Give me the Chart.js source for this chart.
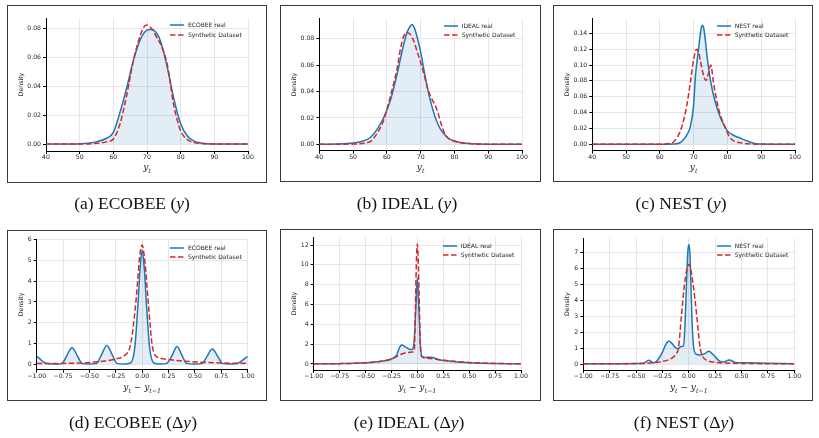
<!DOCTYPE html>
<html>
<head>
<meta charset="utf-8">
<script src="https://cdn.jsdelivr.net/npm/chart.js@4"></script>
<style>
  body { margin: 0; background: #fff; width: 819px; height: 438px; overflow: hidden; position: relative; font-family: "DejaVu Sans", sans-serif; }
  canvas { position: absolute; }
  .box { position: absolute; border: 1.6px solid #3a3a3a; box-sizing: border-box; pointer-events: none; }
  .leg { position: absolute; font-size: 6px; color: #222; white-space: nowrap; transform: translateY(-50%); line-height: 1; }
  .legline { position: absolute; }
  .xl { position: absolute; font-family: "DejaVu Serif", serif; font-style: italic; font-size: 9px; color: #222; transform: translate(-50%, -50%); white-space: nowrap; }
  .xl sub { font-size: 70%; }
  .cap { position: absolute; font-family: "Liberation Serif", "Times New Roman", serif; font-size: 17.5px; color: #111; transform: translate(-50%, -50%); white-space: nowrap; }
</style>
</head>
<body>
<script>
// tick values / labels
const xTicksY = [40, 50, 60, 70, 80, 90, 100];
const xLabelsY = ["40", "50", "60", "70", "80", "90", "100"];
const xTicksDY = [-1, -0.75, -0.5, -0.25, 0, 0.25, 0.5, 0.75, 1];
const xLabelsDY = ["\u22121.00", "\u22120.75", "\u22120.50", "\u22120.25", "0.00", "0.25", "0.50", "0.75", "1.00"];

const yTicksEcobeeY = [0, 0.02, 0.04, 0.06, 0.08];
const yLabelsEcobeeY = ["0.00", "0.02", "0.04", "0.06", "0.08"];
const yTicksIdealY = [0, 0.02, 0.04, 0.06, 0.08];
const yLabelsIdealY = ["0.00", "0.02", "0.04", "0.06", "0.08"];
const yTicksNestY = [0, 0.02, 0.04, 0.06, 0.08, 0.10, 0.12, 0.14];
const yLabelsNestY = ["0.00", "0.02", "0.04", "0.06", "0.08", "0.10", "0.12", "0.14"];
const yTicksEcobeeDY = [0, 1, 2, 3, 4, 5, 6];
const yLabelsEcobeeDY = ["0", "1", "2", "3", "4", "5", "6"];
const yTicksIdealDY = [0, 2, 4, 6, 8, 10, 12];
const yLabelsIdealDY = ["0", "2", "4", "6", "8", "10", "12"];
const yTicksNestDY = [0, 1, 2, 3, 4, 5, 6, 7];
const yLabelsNestDY = ["0", "1", "2", "3", "4", "5", "6", "7"];

// (a) ECOBEE y
const ecobeeYRealX = [40, 45, 50, 55, 58, 60, 62, 64, 66, 68, 70, 71, 72, 74, 76, 78, 80, 82, 84, 86, 88, 90, 95, 100];
const ecobeeYRealD = [0, 0, 0.0002, 0.0015, 0.004, 0.008, 0.022, 0.039, 0.058, 0.072, 0.0785, 0.079, 0.0785, 0.071, 0.053, 0.031, 0.014, 0.0055, 0.002, 0.0007, 0.0002, 0.0001, 0, 0];
const ecobeeYSynX = [40, 50, 55, 58, 60, 62, 64, 66, 68, 69, 70, 71, 72, 73, 74, 76, 78, 79, 80, 82, 84, 86, 90, 100];
const ecobeeYSynD = [0, 0, 0.0005, 0.0015, 0.0035, 0.014, 0.034, 0.058, 0.075, 0.0805, 0.082, 0.0805, 0.0775, 0.073, 0.069, 0.055, 0.026, 0.0165, 0.009, 0.003, 0.001, 0.0004, 0, 0];

// (b) IDEAL y
const idealYRealX = [40, 45, 50, 53, 55, 57, 59, 61, 63, 65, 66, 67, 67.5, 68, 69, 70, 71, 72, 73, 74, 75, 76, 78, 80, 82, 85, 90, 100];
const idealYRealD = [0, 0.0002, 0.001, 0.0025, 0.005, 0.011, 0.02, 0.033, 0.053, 0.076, 0.085, 0.0898, 0.0908, 0.089, 0.081, 0.07, 0.056, 0.043, 0.032, 0.023, 0.016, 0.011, 0.005, 0.0025, 0.0012, 0.0005, 0.0001, 0];
const idealYSynX = [40, 50, 55, 57, 59, 61, 62, 63, 64, 65, 66, 67, 68, 69, 70, 71, 72, 73, 74, 75, 76, 77, 78, 80, 85, 90, 100];
const idealYSynD = [0, 0.0003, 0.002, 0.008, 0.018, 0.036, 0.046, 0.057, 0.072, 0.082, 0.0848, 0.083, 0.078, 0.07, 0.062, 0.053, 0.043, 0.036, 0.031, 0.025, 0.016, 0.009, 0.005, 0.0025, 0.0005, 0, 0];

// (c) NEST y
const nestYRealX = [40, 60, 64, 66, 67, 68, 69, 70, 70.5, 71, 71.5, 72, 72.5, 73, 73.5, 74, 75, 76, 77, 78, 79, 80, 82, 84, 86, 88, 90, 100];
const nestYRealD = [0, 0, 0.0003, 0.002, 0.006, 0.012, 0.022, 0.05, 0.085, 0.105, 0.122, 0.14, 0.150, 0.146, 0.13, 0.11, 0.08, 0.06, 0.045, 0.033, 0.024, 0.017, 0.011, 0.0075, 0.004, 0.0012, 0.0003, 0];
const nestYSynX = [40, 60, 63, 64, 65, 66, 67, 68, 69, 70, 70.9, 71.5, 72, 73, 73.6, 74.3, 75.1, 75.8, 76.6, 77.7, 78.5, 79.5, 80.5, 82, 84, 86, 90, 100];
const nestYSynD = [0, 0.0002, 0.001, 0.003, 0.008, 0.016, 0.03, 0.05, 0.077, 0.107, 0.12, 0.116, 0.105, 0.086, 0.0805, 0.088, 0.10, 0.08, 0.06, 0.04, 0.03, 0.02, 0.01, 0.004, 0.002, 0.0008, 0, 0];

// (d) ECOBEE delta y
const ecobeeDYRealX = [-1, -0.97, -0.93, -0.88, -0.8, -0.76, -0.72, -0.665, -0.61, -0.57, -0.5, -0.43, -0.39, -0.335, -0.28, -0.24, -0.17, -0.11, -0.07, -0.04, -0.02, 0, 0.02, 0.04, 0.07, 0.11, 0.17, 0.23, 0.28, 0.33, 0.38, 0.42, 0.5, 0.57, 0.61, 0.665, 0.72, 0.76, 0.84, 0.9, 0.95, 1];
const ecobeeDYRealD = [0.37, 0.25, 0.08, 0.01, 0, 0.03, 0.35, 0.79, 0.35, 0.03, 0, 0.03, 0.4, 0.89, 0.4, 0.03, 0, 0.05, 0.8, 2.9, 4.6, 5.5, 4.6, 2.9, 0.8, 0.05, 0, 0.03, 0.38, 0.85, 0.38, 0.03, 0, 0.03, 0.33, 0.73, 0.33, 0.03, 0, 0.02, 0.18, 0.37];
const ecobeeDYSynX = [-1, -0.75, -0.5, -0.35, -0.25, -0.17, -0.13, -0.108, -0.085, -0.06, -0.04, -0.028, -0.012, 0, 0.012, 0.025, 0.04, 0.057, 0.075, 0.092, 0.11, 0.13, 0.16, 0.25, 0.35, 0.5, 0.75, 1];
const ecobeeDYSynD = [0.02, 0.03, 0.07, 0.15, 0.24, 0.4, 0.62, 1.0, 1.8, 3.0, 4.2, 5.0, 5.6, 5.75, 5.5, 5.0, 4.1, 3.0, 1.9, 1.0, 0.55, 0.38, 0.3, 0.22, 0.16, 0.1, 0.05, 0.03];

// (e) IDEAL delta y
const idealDYRealX = [-1, -0.75, -0.5, -0.35, -0.25, -0.2, -0.17, -0.15, -0.12, -0.08, -0.05, -0.03, -0.015, 0, 0.015, 0.03, 0.045, 0.08, 0.13, 0.16, 0.2, 0.3, 0.5, 0.75, 1];
const idealDYRealD = [0.01, 0.03, 0.12, 0.27, 0.5, 0.9, 1.7, 1.9, 1.75, 1.5, 1.45, 2.5, 5.5, 8.7, 5.5, 1.8, 0.75, 0.65, 0.68, 0.62, 0.45, 0.3, 0.13, 0.05, 0.02];
const idealDYSynX = [-1, -0.75, -0.5, -0.35, -0.25, -0.2, -0.15, -0.1, -0.05, -0.03, -0.018, -0.01, 0, 0.01, 0.02, 0.03, 0.045, 0.1, 0.2, 0.3, 0.5, 0.75, 1];
const idealDYSynD = [0.01, 0.03, 0.12, 0.27, 0.5, 0.75, 1.0, 1.15, 1.2, 1.3, 6, 10, 12.1, 10, 5.5, 1.6, 0.72, 0.58, 0.45, 0.32, 0.15, 0.05, 0.02];

// (f) NEST delta y
const nestDYRealX = [-1, -0.75, -0.5, -0.43, -0.38, -0.33, -0.29, -0.25, -0.22, -0.19, -0.16, -0.12, -0.1, -0.075, -0.05, -0.035, -0.022, -0.01, 0, 0.01, 0.02, 0.03, 0.045, 0.07, 0.11, 0.15, 0.19, 0.23, 0.28, 0.32, 0.385, 0.44, 0.5, 0.75, 1];
const nestDYRealD = [0.01, 0.02, 0.03, 0.04, 0.23, 0.08, 0.3, 0.75, 1.2, 1.45, 1.3, 1.0, 0.98, 1.1, 1.15, 2.6, 5.0, 7.0, 7.52, 7.0, 5.0, 2.8, 1.1, 0.62, 0.57, 0.65, 0.8, 0.6, 0.25, 0.12, 0.25, 0.1, 0.08, 0.05, 0.02];
const nestDYSynX = [-1, -0.75, -0.5, -0.33, -0.25, -0.19, -0.15, -0.12, -0.098, -0.07, -0.041, -0.02, 0, 0.02, 0.041, 0.076, 0.095, 0.108, 0.13, 0.17, 0.23, 0.35, 0.5, 0.75, 1];
const nestDYSynD = [0.01, 0.01, 0.03, 0.08, 0.16, 0.27, 0.42, 0.65, 1.0, 3.0, 5.0, 5.9, 6.27, 5.9, 5.0, 3.0, 1.7, 1.0, 0.5, 0.23, 0.12, 0.06, 0.04, 0.02, 0.01];

const BLUE = "#1f77b4";
const RED = "#d62728";
const FILL = "rgba(31, 119, 180, 0.13)";
const GRID = "#e6e6e6";
const TEXT = "#262626";

const zip = (xs, ys) => xs.map((x, i) => ({ x: x, y: ys[i] }));

// box = [left, top, width, height]; plot = [left, top, right, bottom]; leg = [lineLeft, row1, row2]
const panels = [
  { box: [7, 5, 260, 178], plot: [46, 18, 248, 151], yr: [-0.0048, 0.0869], name: "ECOBEE real",
    rx: ecobeeYRealX, rd: ecobeeYRealD, sx: ecobeeYSynX, sd: ecobeeYSynD,
    xt: xTicksY, xl: xLabelsY, yt: yTicksEcobeeY, yl: yLabelsEcobeeY, leg: [170, 25.3, 35], xTitle: 167.7, delta: false, cap: "(a) ECOBEE (<i>y</i>)", capX: 132, capY: 203 },
  { box: [280, 5, 261, 177], plot: [319.3, 18.3, 522, 150.7], yr: [-0.0048, 0.0955], name: "IDEAL real",
    rx: idealYRealX, rd: idealYRealD, sx: idealYSynX, sd: idealYSynD,
    xt: xTicksY, xl: xLabelsY, yt: yTicksIdealY, yl: yLabelsIdealY, leg: [443.7, 26, 35.3], xTitle: 167.7, delta: false, cap: "(b) IDEAL (<i>y</i>)", capX: 407, capY: 203 },
  { box: [553, 5, 260, 177], plot: [592.3, 18.3, 795, 150.7], yr: [-0.008, 0.1589], name: "NEST real",
    rx: nestYRealX, rd: nestYRealD, sx: nestYSynX, sd: nestYSynD,
    xt: xTicksY, xl: xLabelsY, yt: yTicksNestY, yl: yLabelsNestY, leg: [716.7, 26, 35.3], xTitle: 167.7, delta: false, cap: "(c) NEST (<i>y</i>)", capX: 681, capY: 203 },
  { box: [7, 230, 260, 171], plot: [36.7, 239, 247.7, 369.8], yr: [-0.28, 6.04], name: "ECOBEE real",
    rx: ecobeeDYRealX, rd: ecobeeDYRealD, sx: ecobeeDYSynX, sd: ecobeeDYSynD,
    xt: xTicksDY, xl: xLabelsDY, yt: yTicksEcobeeDY, yl: yLabelsEcobeeDY, leg: [170, 247.7, 257.3], xTitle: 388.3, delta: true, cap: "(d) ECOBEE (\u0394<i>y</i>)", capX: 133, capY: 422 },
  { box: [280, 229, 261, 172], plot: [313.7, 237, 521, 370], yr: [-0.61, 12.81], name: "IDEAL real",
    rx: idealDYRealX, rd: idealDYRealD, sx: idealDYSynX, sd: idealDYSynD,
    xt: xTicksDY, xl: xLabelsDY, yt: yTicksIdealDY, yl: yLabelsIdealDY, leg: [442.7, 245.7, 254.7], xTitle: 388.3, delta: true, cap: "(e) IDEAL (\u0394<i>y</i>)", capX: 409, capY: 422 },
  { box: [553, 229, 260, 172], plot: [583.3, 238.4, 794.3, 370], yr: [-0.376, 7.9], name: "NEST real",
    rx: nestDYRealX, rd: nestDYRealD, sx: nestDYSynX, sd: nestDYSynD,
    xt: xTicksDY, xl: xLabelsDY, yt: yTicksNestDY, yl: yLabelsNestDY, leg: [716.7, 245.7, 254.7], xTitle: 388.3, delta: true, cap: "(f) NEST (\u0394<i>y</i>)", capX: 684, capY: 422 },
];

function legendLine(x, y, color, dash) {
  const ns = "http://www.w3.org/2000/svg";
  const svg = document.createElementNS(ns, "svg");
  svg.setAttribute("width", "14");
  svg.setAttribute("height", "4");
  svg.setAttribute("class", "legline");
  svg.style.left = x + "px";
  svg.style.top = (y - 2) + "px";
  const l = document.createElementNS(ns, "line");
  l.setAttribute("x1", "0"); l.setAttribute("x2", "14");
  l.setAttribute("y1", "2"); l.setAttribute("y2", "2");
  l.setAttribute("stroke", color);
  l.setAttribute("stroke-width", "1.5");
  if (dash) l.setAttribute("stroke-dasharray", "5.5 2.5");
  svg.appendChild(l);
  document.body.appendChild(svg);
}

function addText(cls, html, x, y) {
  const d = document.createElement("div");
  d.className = cls;
  d.innerHTML = html;
  d.style.left = x + "px";
  d.style.top = y + "px";
  document.body.appendChild(d);
}

panels.forEach((p) => {
  const [bx, by, bw, bh] = p.box;
  const cv = document.createElement("canvas");
  cv.width = bw;
  cv.height = bh;
  cv.style.left = bx + "px";
  cv.style.top = by + "px";
  document.body.appendChild(cv);

  const yAxisW = p.plot[0] - bx;
  const padTop = p.plot[1] - by;
  const padRight = bx + bw - p.plot[2];
  const xAxisH = by + bh - p.plot[3];
  const tickFont = { family: "DejaVu Sans", size: 6.2 };

  new Chart(cv, {
    type: "line",
    data: {
      datasets: [
        {
          label: p.name,
          data: zip(p.rx, p.rd),
          borderColor: BLUE,
          borderWidth: 1.5,
          backgroundColor: FILL,
          fill: "origin",
          pointRadius: 0,
          cubicInterpolationMode: "monotone",
          order: 1,
        },
        {
          label: "Synthetic Dataset",
          data: zip(p.sx, p.sd),
          borderColor: RED,
          borderWidth: 1.5,
          borderDash: [5.5, 2.5],
          fill: false,
          pointRadius: 0,
          cubicInterpolationMode: "monotone",
          order: 0,
        },
      ],
    },
    options: {
      responsive: false,
      animation: false,
      devicePixelRatio: 1,
      layout: { padding: { left: 0, top: padTop, right: padRight, bottom: 0 } },
      plugins: { legend: { display: false }, tooltip: { enabled: false } },
      scales: {
        x: {
          type: "linear",
          min: p.xt[0],
          max: p.xt[p.xt.length - 1],
          afterBuildTicks: (s) => { s.ticks = p.xt.map((v) => ({ value: v })); },
          afterFit: (s) => { s.height = xAxisH; },
          ticks: { callback: (v, i) => p.xl[i], font: tickFont, color: TEXT, padding: 0, maxRotation: 0, autoSkip: false },
          grid: { color: GRID, lineWidth: 1, tickLength: 3, tickColor: "#000", tickWidth: 1 },
          border: { color: "#000", width: 1 },
        },
        y: {
          type: "linear",
          min: p.yr[0],
          max: p.yr[1],
          afterBuildTicks: (s) => { s.ticks = p.yt.map((v) => ({ value: v })); },
          afterFit: (s) => { s.width = yAxisW; },
          ticks: { callback: (v, i) => p.yl[i], font: tickFont, color: TEXT, padding: 2, autoSkip: false },
          grid: { color: GRID, lineWidth: 1, tickLength: 3, tickColor: "#000", tickWidth: 1 },
          border: { color: "#000", width: 1 },
          title: { display: true, text: "Density", font: { family: "DejaVu Sans", size: 6.2 }, color: TEXT, padding: { top: 10.8, bottom: 0 } },
        },
      },
    },
  });

  // frame around each subplot
  const fr = document.createElement("div");
  fr.className = "box";
  fr.style.left = bx + "px";
  fr.style.top = by + "px";
  fr.style.width = bw + "px";
  fr.style.height = bh + "px";
  document.body.appendChild(fr);

  // legend
  legendLine(p.leg[0], p.leg[1], BLUE, false);
  legendLine(p.leg[0], p.leg[2], RED, true);
  addText("leg", p.name, p.leg[0] + 18, p.leg[1]);
  addText("leg", "Synthetic Dataset", p.leg[0] + 18, p.leg[2]);

  // x axis label
  const xc = (p.plot[0] + p.plot[2]) / 2;
  const xt = p.delta ? "y<sub>t</sub> \u2212 y<sub>t\u22121</sub>" : "y<sub>t</sub>";
  addText("xl", xt, xc, p.xTitle);

  // caption
  addText("cap", p.cap, p.capX, p.capY);
});
</script>
</body>
</html>
